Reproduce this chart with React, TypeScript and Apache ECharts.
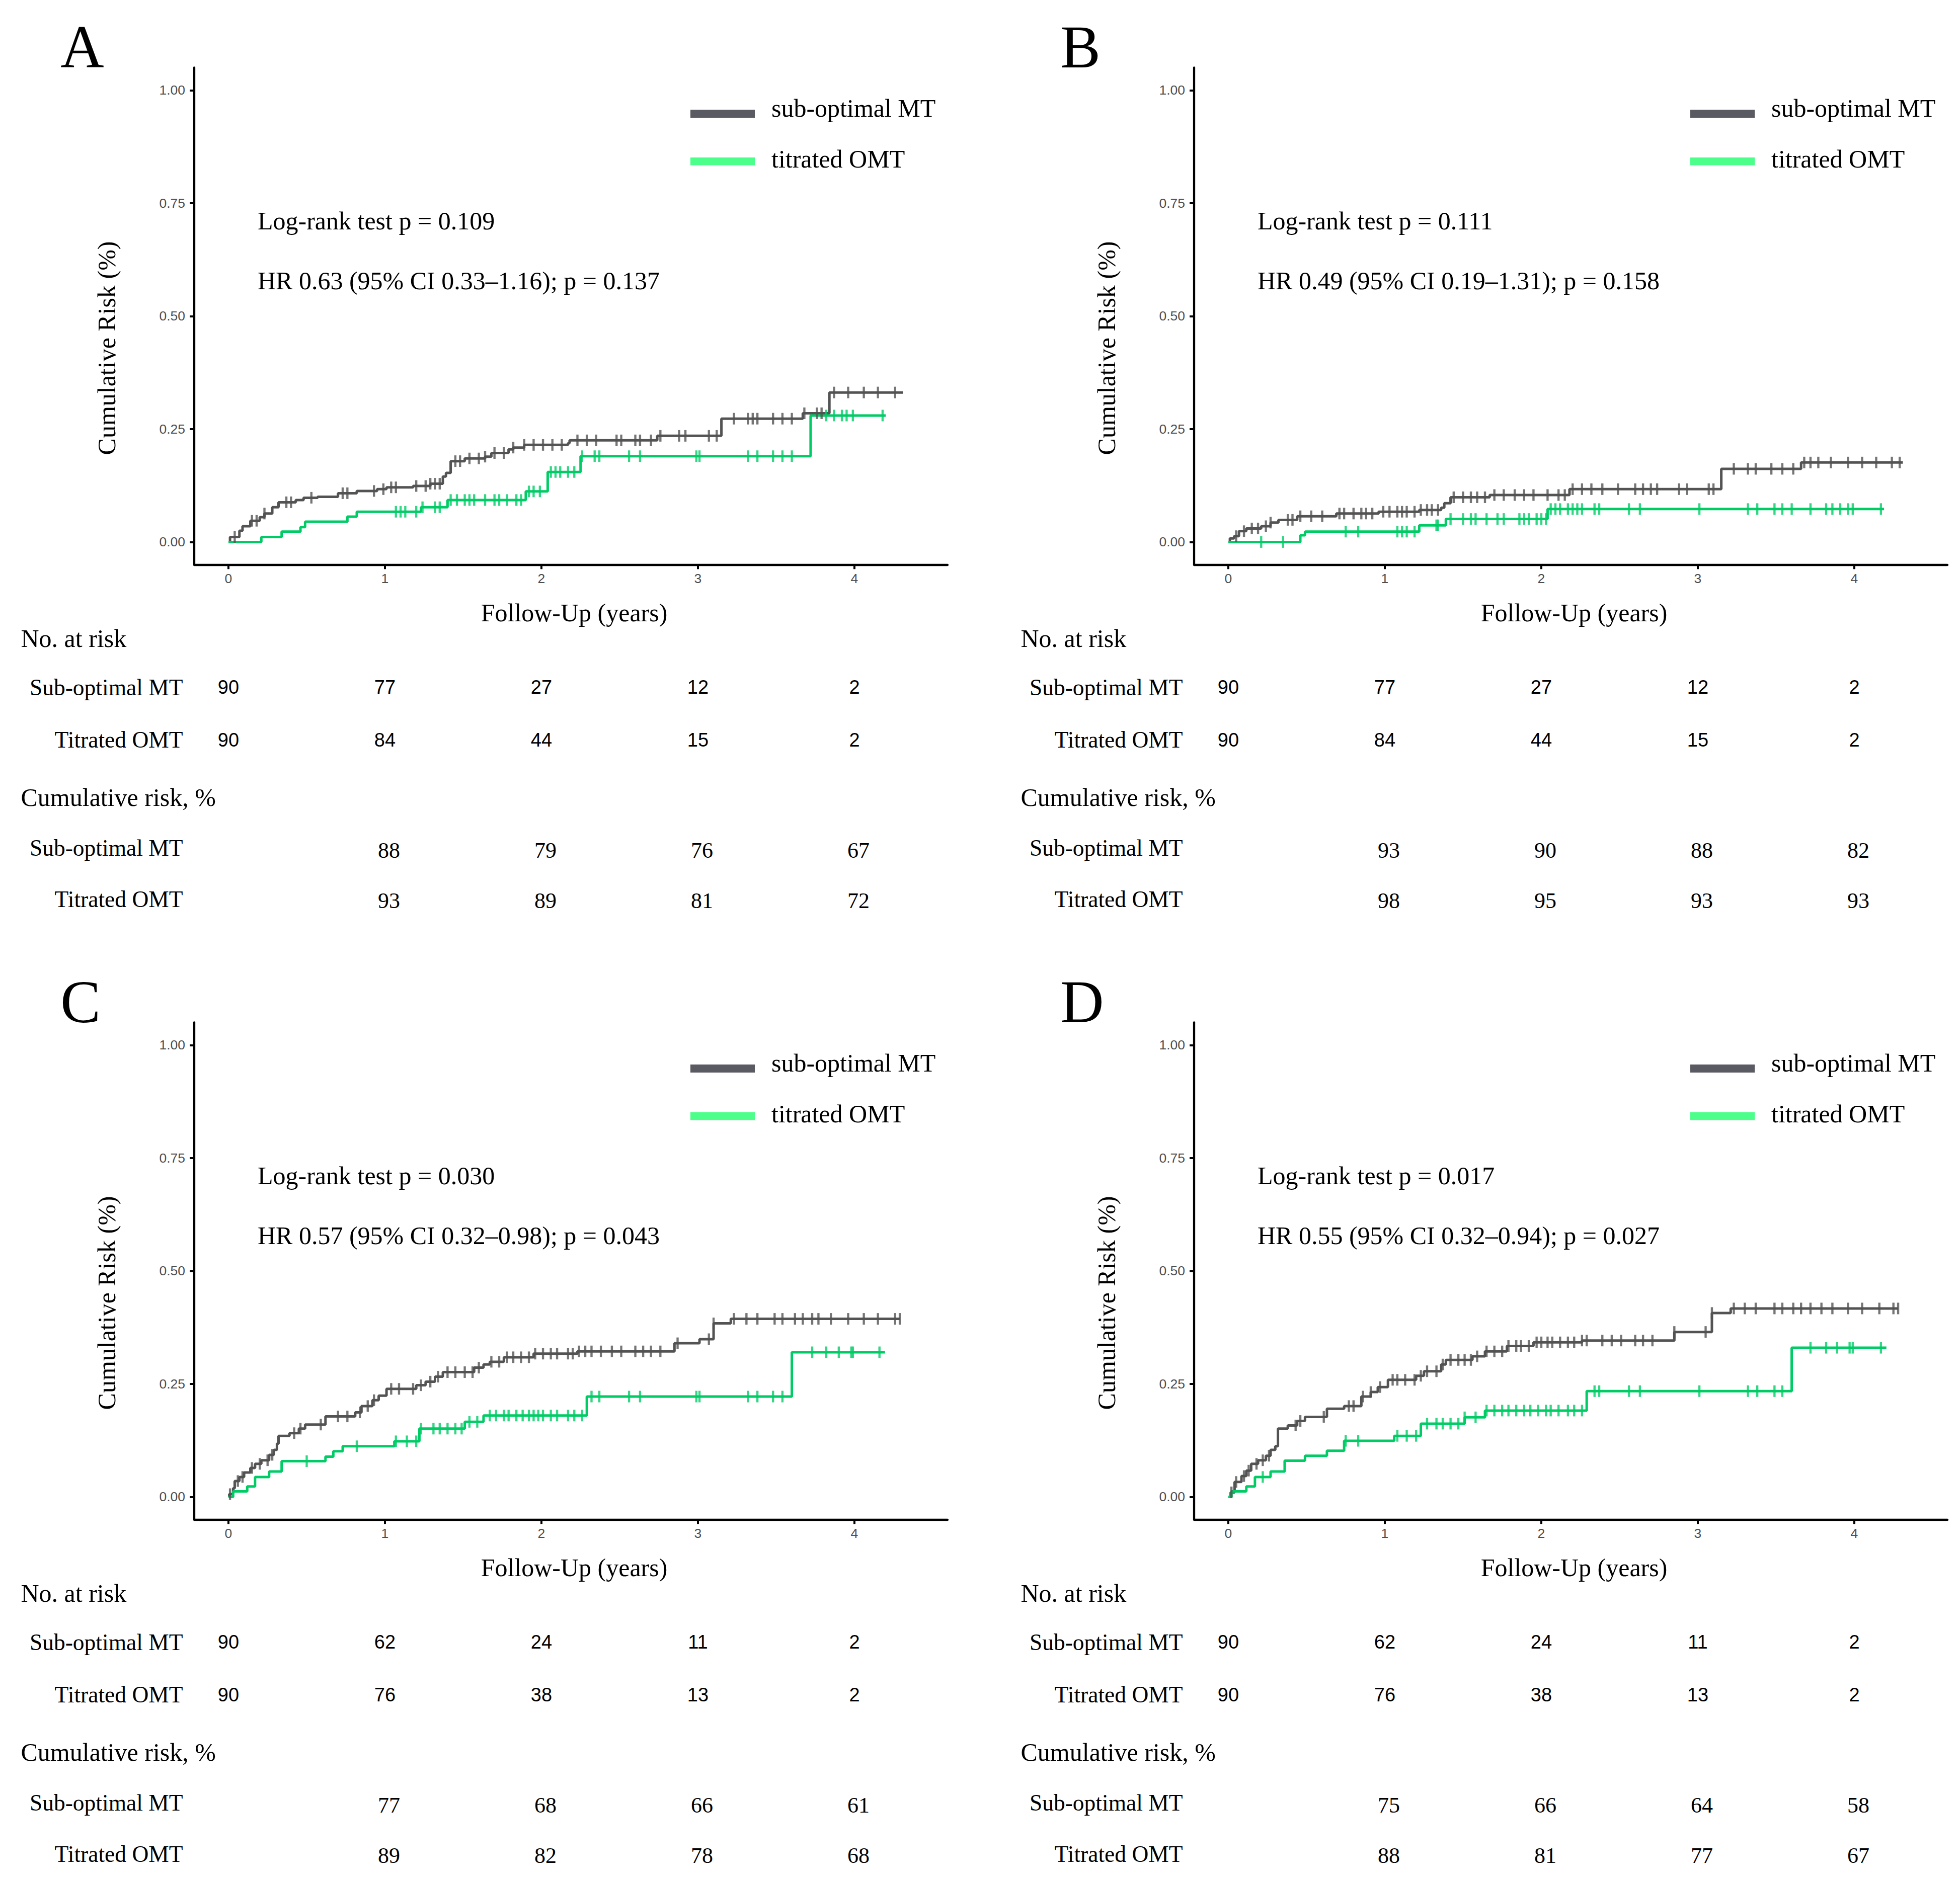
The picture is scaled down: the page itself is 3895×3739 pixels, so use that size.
import React, { useEffect, useRef } from "react";
import * as echarts from "echarts";

// ---------- tick labels ----------
const xTicks = [0, 1, 2, 3, 4];
const yTicks = [0, 0.25, 0.5, 0.75, 1];
const riskTimes = [0, 1, 2, 3, 4];
const cumTimes = [1, 2, 3, 4];
const groupNames = ["sub-optimal MT", "titrated OMT"];
const rowNames = ["Sub-optimal MT", "Titrated OMT"];

// ---------- Panel A ----------
const aGrayT = [0, 0.01, 0.07, 0.09, 0.14, 0.2, 0.23, 0.28, 0.32, 0.43, 0.48, 0.57, 0.7, 0.82, 0.95, 1.01, 1.18, 1.29, 1.37, 1.39, 1.42, 1.51, 1.64, 1.68, 1.79, 1.82, 1.89, 2.17, 2.18, 2.74, 3.15, 3.67, 3.84];
const aGrayV = [0, 0.011, 0.025, 0.035, 0.047, 0.055, 0.063, 0.077, 0.088, 0.093, 0.098, 0.1, 0.108, 0.113, 0.117, 0.121, 0.124, 0.129, 0.145, 0.153, 0.179, 0.185, 0.189, 0.197, 0.205, 0.209, 0.215, 0.219, 0.225, 0.235, 0.273, 0.285, 0.331];
const aGrayEnd = 4.31;
const aGrayCens = [0.04, 0.15, 0.18, 0.23, 0.37, 0.4, 0.53, 0.73, 0.76, 0.93, 0.99, 1.04, 1.07, 1.2, 1.26, 1.29, 1.32, 1.35, 1.45, 1.48, 1.54, 1.6, 1.64, 1.7, 1.76, 1.82, 1.89, 1.95, 2.01, 2.07, 2.13, 2.23, 2.29, 2.35, 2.48, 2.51, 2.6, 2.63, 2.7, 2.76, 2.88, 2.92, 3.07, 3.12, 3.23, 3.32, 3.35, 3.38, 3.48, 3.54, 3.6, 3.68, 3.76, 3.79, 3.87, 3.96, 4.06, 4.15, 4.26];
const aGreenT = [0, 0.21, 0.34, 0.46, 0.49, 0.76, 0.82, 1.23, 1.4, 1.9, 2.04, 2.25, 3.72];
const aGreenV = [0, 0.011, 0.023, 0.033, 0.045, 0.056, 0.067, 0.077, 0.093, 0.112, 0.155, 0.19, 0.28];
const aGreenEnd = 4.2;
const aGreenCens = [1.07, 1.1, 1.13, 1.2, 1.24, 1.32, 1.35, 1.42, 1.46, 1.51, 1.54, 1.57, 1.64, 1.7, 1.73, 1.78, 1.84, 1.87, 1.92, 1.95, 1.99, 2.06, 2.09, 2.12, 2.17, 2.21, 2.26, 2.34, 2.37, 2.56, 2.63, 2.99, 3.01, 3.32, 3.38, 3.48, 3.54, 3.6, 3.82, 3.87, 3.92, 3.95, 3.99, 4.18];
const aRiskSub = [90, 77, 27, 12, 2];
const aRiskTit = [90, 84, 44, 15, 2];
const aCumSub = [88, 79, 76, 67];
const aCumTit = [93, 89, 81, 72];
const aStats = ["Log-rank test p = 0.109", "HR 0.63 (95% CI 0.33\u20131.16); p = 0.137"];

// ---------- Panel B ----------
const bGrayT = [0, 0.01, 0.037, 0.068, 0.115, 0.21, 0.27, 0.32, 0.44, 0.69, 0.96, 1.22, 1.36, 1.38, 1.42, 1.67, 2.18, 3.15, 3.66];
const bGrayV = [0, 0.008, 0.013, 0.024, 0.03, 0.035, 0.043, 0.049, 0.057, 0.063, 0.067, 0.071, 0.076, 0.086, 0.099, 0.104, 0.117, 0.162, 0.176];
const bGrayEnd = 4.31;
const bGrayCens = [0.05, 0.1, 0.15, 0.19, 0.24, 0.27, 0.38, 0.41, 0.46, 0.53, 0.6, 0.71, 0.74, 0.8, 0.85, 0.88, 0.92, 0.99, 1.03, 1.08, 1.11, 1.14, 1.19, 1.23, 1.27, 1.3, 1.34, 1.44, 1.5, 1.55, 1.59, 1.64, 1.7, 1.76, 1.83, 1.89, 1.95, 2.04, 2.11, 2.15, 2.2, 2.26, 2.32, 2.39, 2.49, 2.6, 2.65, 2.7, 2.74, 2.88, 2.93, 3.07, 3.1, 3.23, 3.32, 3.37, 3.47, 3.54, 3.61, 3.68, 3.72, 3.77, 3.85, 3.96, 4.05, 4.14, 4.24, 4.29];
const bGreenT = [0, 0.46, 0.49, 1.22, 1.39, 2.04];
const bGreenV = [0, 0.015, 0.023, 0.037, 0.051, 0.073];
const bGreenEnd = 4.19;
const bGreenCens = [0.21, 0.35, 0.75, 0.83, 1.08, 1.11, 1.14, 1.19, 1.33, 1.34, 1.42, 1.5, 1.55, 1.58, 1.65, 1.72, 1.76, 1.86, 1.89, 1.92, 1.97, 2.0, 2.03, 2.06, 2.09, 2.12, 2.17, 2.2, 2.23, 2.26, 2.34, 2.37, 2.56, 2.63, 3.01, 3.32, 3.38, 3.49, 3.54, 3.6, 3.72, 3.82, 3.86, 3.91, 3.96, 3.99, 4.17];
const bRiskSub = [90, 77, 27, 12, 2];
const bRiskTit = [90, 84, 44, 15, 2];
const bCumSub = [93, 90, 88, 82];
const bCumTit = [98, 95, 93, 93];
const bStats = ["Log-rank test p = 0.111", "HR 0.49 (95% CI 0.19\u20131.31); p = 0.158"];

// ---------- Panel C ----------
const cGrayT = [0, 0.005, 0.03, 0.04, 0.07, 0.1, 0.14, 0.17, 0.21, 0.26, 0.29, 0.31, 0.32, 0.39, 0.45, 0.49, 0.62, 0.81, 0.85, 0.92, 0.96, 1.01, 1.2, 1.26, 1.32, 1.37, 1.57, 1.63, 1.67, 1.76, 1.95, 2.23, 2.85, 3.01, 3.1, 3.21];
const cGrayV = [0, 0.006, 0.019, 0.035, 0.044, 0.054, 0.064, 0.073, 0.081, 0.093, 0.104, 0.118, 0.135, 0.141, 0.151, 0.16, 0.178, 0.187, 0.201, 0.214, 0.224, 0.239, 0.247, 0.255, 0.266, 0.276, 0.286, 0.293, 0.299, 0.309, 0.317, 0.322, 0.34, 0.349, 0.384, 0.394];
const cGrayEnd = 4.29;
const cGrayCens = [0.01, 0.06, 0.09, 0.15, 0.2, 0.25, 0.28, 0.42, 0.46, 0.59, 0.7, 0.76, 0.84, 0.89, 0.93, 1.04, 1.09, 1.18, 1.23, 1.29, 1.34, 1.4, 1.45, 1.51, 1.56, 1.6, 1.68, 1.73, 1.78, 1.82, 1.87, 1.92, 1.96, 2.01, 2.06, 2.1, 2.17, 2.2, 2.24, 2.28, 2.32, 2.38, 2.45, 2.51, 2.6, 2.65, 2.7, 2.76, 2.87, 3.07, 3.1, 3.23, 3.31, 3.38, 3.49, 3.54, 3.62, 3.67, 3.73, 3.77, 3.85, 3.96, 4.06, 4.15, 4.26, 4.29];
const cGreenT = [0, 0.03, 0.12, 0.17, 0.26, 0.34, 0.62, 0.67, 0.73, 1.06, 1.22, 1.51, 1.63, 2.29, 3.6];
const cGreenV = [0, 0.012, 0.023, 0.044, 0.056, 0.079, 0.089, 0.101, 0.112, 0.123, 0.151, 0.166, 0.18, 0.222, 0.32];
const cGreenEnd = 4.195;
const cGreenCens = [0.5, 0.82, 1.07, 1.14, 1.2, 1.23, 1.31, 1.35, 1.4, 1.45, 1.49, 1.54, 1.59, 1.67, 1.71, 1.76, 1.79, 1.84, 1.88, 1.92, 1.95, 1.98, 2.01, 2.06, 2.1, 2.17, 2.21, 2.26, 2.32, 2.37, 2.56, 2.63, 2.99, 3.01, 3.32, 3.38, 3.48, 3.54, 3.73, 3.82, 3.9, 3.98, 3.99, 4.16];
const cRiskSub = [90, 62, 24, 11, 2];
const cRiskTit = [90, 76, 38, 13, 2];
const cCumSub = [77, 68, 66, 61];
const cCumTit = [89, 82, 78, 68];
const cStats = ["Log-rank test p = 0.030", "HR 0.57 (95% CI 0.32\u20130.98); p = 0.043"];

// ---------- Panel D ----------
const dGrayT = [0, 0.015, 0.04, 0.084, 0.115, 0.146, 0.19, 0.24, 0.27, 0.3, 0.317, 0.38, 0.44, 0.49, 0.63, 0.74, 0.85, 0.91, 0.955, 1.02, 1.2, 1.25, 1.36, 1.39, 1.56, 1.64, 1.78, 1.95, 2.26, 2.85, 3.09, 3.21];
const dGrayV = [0, 0.01, 0.033, 0.046, 0.058, 0.073, 0.081, 0.091, 0.104, 0.112, 0.151, 0.158, 0.168, 0.177, 0.195, 0.201, 0.222, 0.232, 0.243, 0.259, 0.268, 0.278, 0.293, 0.303, 0.311, 0.322, 0.334, 0.342, 0.346, 0.365, 0.407, 0.417];
const dGrayEnd = 4.28;
const dGrayCens = [0.02, 0.05, 0.1, 0.13, 0.18, 0.22, 0.26, 0.43, 0.46, 0.61, 0.77, 0.8, 0.86, 0.91, 0.97, 1.05, 1.08, 1.13, 1.19, 1.23, 1.27, 1.33, 1.37, 1.42, 1.47, 1.51, 1.55, 1.59, 1.65, 1.7, 1.75, 1.79, 1.84, 1.87, 1.92, 1.97, 2.0, 2.04, 2.07, 2.12, 2.17, 2.21, 2.26, 2.29, 2.39, 2.45, 2.51, 2.6, 2.65, 2.71, 2.85, 3.05, 3.09, 3.23, 3.3, 3.37, 3.49, 3.54, 3.61, 3.66, 3.72, 3.79, 3.86, 3.96, 4.05, 4.16, 4.25, 4.28];
const dGreenT = [0, 0.02, 0.115, 0.17, 0.27, 0.36, 0.49, 0.63, 0.74, 1.06, 1.23, 1.51, 1.64, 2.29, 3.6];
const dGreenV = [0, 0.012, 0.023, 0.044, 0.056, 0.08, 0.091, 0.102, 0.124, 0.135, 0.162, 0.176, 0.191, 0.234, 0.33];
const dGreenEnd = 4.205;
const dGreenCens = [0.22, 0.75, 0.83, 1.08, 1.14, 1.2, 1.27, 1.33, 1.37, 1.42, 1.47, 1.51, 1.58, 1.65, 1.7, 1.75, 1.79, 1.84, 1.89, 1.93, 1.98, 2.03, 2.06, 2.11, 2.17, 2.21, 2.26, 2.34, 2.37, 2.56, 2.63, 3.01, 3.32, 3.38, 3.49, 3.54, 3.72, 3.82, 3.89, 3.97, 3.99, 4.17];
const dRiskSub = [90, 62, 24, 11, 2];
const dRiskTit = [90, 76, 38, 13, 2];
const dCumSub = [75, 66, 64, 58];
const dCumTit = [88, 81, 77, 67];
const dStats = ["Log-rank test p = 0.017", "HR 0.55 (95% CI 0.32\u20130.94); p = 0.027"];

const panels = [
  { letter: "A", col: 0, row: 0, gT: aGrayT, gV: aGrayV, gEnd: aGrayEnd, gC: aGrayCens, nT: aGreenT, nV: aGreenV, nEnd: aGreenEnd, nC: aGreenCens, rs: aRiskSub, rt: aRiskTit, cs: aCumSub, ct: aCumTit, stats: aStats },
  { letter: "B", col: 1, row: 0, gT: bGrayT, gV: bGrayV, gEnd: bGrayEnd, gC: bGrayCens, nT: bGreenT, nV: bGreenV, nEnd: bGreenEnd, nC: bGreenCens, rs: bRiskSub, rt: bRiskTit, cs: bCumSub, ct: bCumTit, stats: bStats },
  { letter: "C", col: 0, row: 1, gT: cGrayT, gV: cGrayV, gEnd: cGrayEnd, gC: cGrayCens, nT: cGreenT, nV: cGreenV, nEnd: cGreenEnd, nC: cGreenCens, rs: cRiskSub, rt: cRiskTit, cs: cCumSub, ct: cCumTit, stats: cStats },
  { letter: "D", col: 1, row: 1, gT: dGrayT, gV: dGrayV, gEnd: dGrayEnd, gC: dGrayCens, nT: dGreenT, nV: dGreenV, nEnd: dGreenEnd, nC: dGreenCens, rs: dRiskSub, rt: dRiskTit, cs: dCumSub, ct: dCumTit, stats: dStats },
];

// ---------- styling / layout ----------
const W = 3895;
const H = 3739;
const DX = 1987;
const DY = 1898;
const SERIF = '"Liberation Serif", "Times New Roman", serif';
const SANS = '"Liberation Sans", Arial, sans-serif';
const GRAY = "#535353";
const GREEN = "#00CC66";
const KEY_GRAY = "#5A5A63";
const KEY_GREEN = "#4CFF8A";
const X_MIN = -0.2186;
const X_MAX = 4.595;
const G_LEFT = 386;
const G_WIDTH = 1497;
const FS = 50;
const FS_ROW = 45.5;
const MID = 0.33; // baseline -> middle offset factor

function stepAt(T: number[], V: number[], t: number) {
  let v = V[0];
  for (let i = 0; i < T.length; i++) {
    if (T[i] <= t) v = V[i];
    else break;
  }
  return v;
}
function curve(T: number[], V: number[], end: number) {
  const pts = T.map((t, i) => [t, V[i]]);
  pts.push([end, V[V.length - 1]]);
  return pts;
}

function txt(x: number, baseline: number, text: string, opt: any = {}) {
  const fs = opt.fs || FS;
  return {
    type: "text",
    x,
    y: baseline - MID * fs,
    silent: true,
    style: {
      text,
      fill: "#000",
      font: `${fs}px ${opt.family || SERIF}`,
      align: opt.align || "left",
      verticalAlign: "middle",
    },
  };
}

function buildOption() {
  const grid: any[] = [];
  const xAxis: any[] = [];
  const yAxis: any[] = [];
  const series: any[] = [];
  const graphic: any[] = [];

  panels.forEach((p) => {
    const ox = p.col * DX;
    const oy = p.row * DY;
    const gi = grid.length;
    // main grid
    grid.push({ left: G_LEFT + ox, top: 134.5 + oy, width: G_WIDTH, height: 987.8, containLabel: false });
    xAxis.push({
      type: "value", gridIndex: gi, min: X_MIN, max: X_MAX,
      axisLine: { show: true, onZero: false, lineStyle: { color: "#000", width: 4.3 } },
      axisTick: { show: true, customValues: xTicks, length: 9, lineStyle: { color: "#000", width: 4 } },
      axisLabel: { show: true, customValues: xTicks, color: "#4D4D4D", fontFamily: SANS, fontSize: 26.5, margin: 14, formatter: (v: number) => String(v) },
      splitLine: { show: false },
    });
    yAxis.push({
      type: "value", gridIndex: gi, min: -0.05, max: 1.05,
      axisLine: { show: true, onZero: false, lineStyle: { color: "#000", width: 4.3 } },
      axisTick: { show: true, customValues: yTicks, length: 9, lineStyle: { color: "#000", width: 4 } },
      axisLabel: { show: true, customValues: yTicks, color: "#4D4D4D", fontFamily: SANS, fontSize: 26.5, margin: 18, formatter: (v: number) => v.toFixed(2) },
      splitLine: { show: false },
    });
    // number at risk grid
    grid.push({ left: G_LEFT + ox, top: 1313.5 + oy, width: G_WIDTH, height: 210 });
    xAxis.push({ type: "value", gridIndex: gi + 1, min: X_MIN, max: X_MAX, show: false });
    yAxis.push({ type: "value", gridIndex: gi + 1, min: -0.5, max: 1.5, inverse: true, show: false });
    // cumulative risk grid
    grid.push({ left: G_LEFT + ox, top: 1640 + oy, width: G_WIDTH, height: 200 });
    xAxis.push({ type: "value", gridIndex: gi + 2, min: X_MIN, max: X_MAX, show: false });
    yAxis.push({ type: "value", gridIndex: gi + 2, min: -0.5, max: 1.5, inverse: true, show: false });

    const lineBase = { type: "line", xAxisIndex: gi, yAxisIndex: gi, step: "end", showSymbol: false, symbol: "none", silent: true };
    series.push({ ...lineBase, name: groupNames[0], data: curve(p.gT, p.gV, p.gEnd), lineStyle: { color: GRAY, width: 5 }, z: 2 });
    series.push({ ...lineBase, name: groupNames[1], data: curve(p.nT, p.nV, p.nEnd), lineStyle: { color: GREEN, width: 5 }, z: 3 });
    series.push({
      type: "scatter", xAxisIndex: gi, yAxisIndex: gi, silent: true, symbol: "rect", symbolSize: [4.4, 23],
      itemStyle: { color: GRAY }, z: 4,
      data: p.gC.map((t) => [t, stepAt(p.gT, p.gV, t)]),
    });
    series.push({
      type: "scatter", xAxisIndex: gi, yAxisIndex: gi, silent: true, symbol: "rect", symbolSize: [4.4, 23],
      itemStyle: { color: GREEN }, z: 5,
      data: p.nC.map((t) => [t, stepAt(p.nT, p.nV, t)]),
    });
    const textSeries = (idx: number, data: number[][], font: string, dx: number) => ({
      type: "custom", xAxisIndex: idx, yAxisIndex: idx, silent: true,
      data,
      renderItem: (params: any, api: any) => {
        const c = api.coord([api.value(0), api.value(1)]);
        return {
          type: "text", x: c[0] + dx, y: c[1],
          style: { text: String(api.value(2)), fill: "#000", font, align: "center", verticalAlign: "middle" },
        };
      },
    });
    const riskData: number[][] = [];
    riskTimes.forEach((t, i) => { riskData.push([t, 0, p.rs[i]]); riskData.push([t, 1, p.rt[i]]); });
    series.push(textSeries(gi + 1, riskData, `38px ${SANS}`, 0));
    const cumData: number[][] = [];
    cumTimes.forEach((t, i) => { cumData.push([t, 0, p.cs[i]]); cumData.push([t, 1, p.ct[i]]); });
    series.push(textSeries(gi + 2, cumData, `44px ${SERIF}`, 8));

    // texts
    graphic.push(txt(120 + ox, 133 + oy, p.letter, { fs: 120 }));
    graphic.push({ type: "rect", silent: true, shape: { x: 1372 + ox, y: 218 + oy, width: 128, height: 16 }, style: { fill: KEY_GRAY } });
    graphic.push({ type: "rect", silent: true, shape: { x: 1372 + ox, y: 313 + oy, width: 128, height: 15.5 }, style: { fill: KEY_GREEN } });
    graphic.push(txt(1533 + ox, 231 + oy, groupNames[0]));
    graphic.push(txt(1533 + ox, 332 + oy, groupNames[1]));
    graphic.push(txt(512 + ox, 455 + oy, p.stats[0]));
    graphic.push(txt(512 + ox, 574 + oy, p.stats[1]));
    graphic.push(txt(1141 + ox, 1234 + oy, "Follow-Up (years)", { align: "center" }));
    graphic.push({
      type: "text", x: 212 + ox, y: 692 + oy, rotation: Math.PI / 2, silent: true,
      style: { text: "Cumulative Risk (%)", fill: "#000", font: `${FS}px ${SERIF}`, align: "center", verticalAlign: "middle" },
    });
    graphic.push(txt(41.5 + ox, 1285 + oy, "No. at risk"));
    graphic.push(txt(363.5 + ox, 1382 + oy, rowNames[0], { align: "right", fs: FS_ROW }));
    graphic.push(txt(363.5 + ox, 1486 + oy, rowNames[1], { align: "right", fs: FS_ROW }));
    graphic.push(txt(41.5 + ox, 1601 + oy, "Cumulative risk, %"));
    graphic.push(txt(363.5 + ox, 1701 + oy, rowNames[0], { align: "right", fs: FS_ROW }));
    graphic.push(txt(363.5 + ox, 1803 + oy, rowNames[1], { align: "right", fs: FS_ROW }));
  });

  return { animation: false, backgroundColor: "#fff", grid, xAxis, yAxis, series, graphic };
}

export default function App() {
  const ref = useRef<HTMLDivElement>(null);
  useEffect(() => {
    document.body.style.margin = "0";
    document.body.style.overflow = "hidden";
    if (!ref.current) return;
    const chart = echarts.init(ref.current, undefined, { renderer: "svg", width: W, height: H });
    chart.setOption(buildOption() as any);
    return () => chart.dispose();
  }, []);
  return <div ref={ref} style={{ width: W, height: H }} />;
}
